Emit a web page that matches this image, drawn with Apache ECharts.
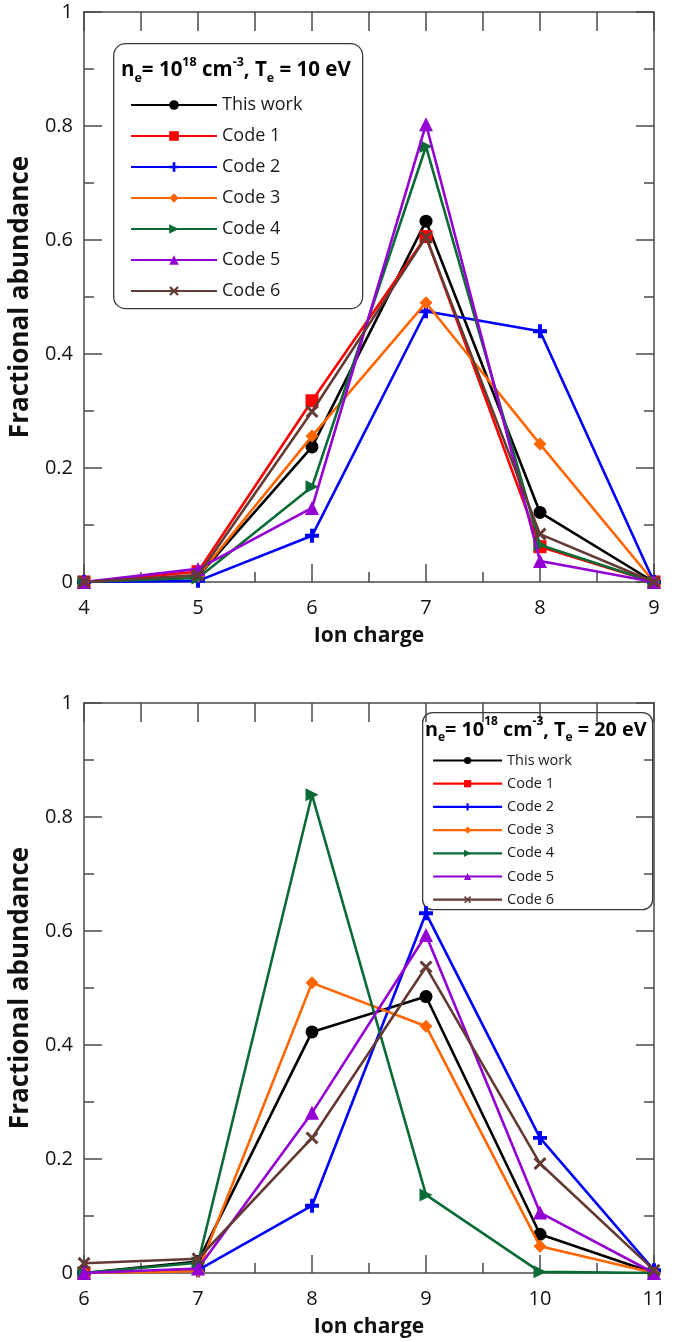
<!DOCTYPE html>
<html>
<head>
<meta charset="utf-8">
<script src="https://cdn.jsdelivr.net/npm/echarts@6/dist/echarts.min.js"></script>
<style>
html,body{margin:0;padding:0;background:#fff;}
#c{width:677px;height:1342px;}
</style>
</head>
<body>
<div id="c"></div>
<script>
// ---- data (top panel: Te = 10 eV) ----
const chargesA = [4, 5, 6, 7, 8, 9];
const thisWorkA = [0, 0.010, 0.237, 0.633, 0.122, 0];
const code1A = [0, 0.018, 0.318, 0.606, 0.062, 0];
const code2A = [0, 0.002, 0.081, 0.475, 0.440, 0];
const code3A = [0, 0.010, 0.256, 0.490, 0.242, 0];
const code4A = [0, 0.007, 0.167, 0.764, 0.065, 0];
const code5A = [0, 0.023, 0.130, 0.803, 0.037, 0];
const code6A = [0, 0.012, 0.299, 0.605, 0.084, 0];

// ---- data (bottom panel: Te = 20 eV) ----
const chargesB = [6, 7, 8, 9, 10, 11];
const thisWorkB = [0, 0.020, 0.423, 0.485, 0.068, 0];
const code1B = [0, null, null, null, null, null];
const code2B = [0, 0.005, 0.118, 0.631, 0.237, 0.005];
const code3B = [0, 0.003, 0.509, 0.433, 0.047, 0];
const code4B = [0, 0.018, 0.839, 0.137, 0.002, 0];
const code5B = [0, 0.008, 0.281, 0.593, 0.106, 0];
const code6B = [0.017, 0.025, 0.237, 0.537, 0.192, 0.005];

const seriesNames = ['This work', 'Code 1', 'Code 2', 'Code 3', 'Code 4', 'Code 5', 'Code 6'];
const yTicks = [0, 0.2, 0.4, 0.6, 0.8, 1];

// ---- styles ----
const colors = ['#000000', '#ff0000', '#0000ff', '#ff6600', '#0b6b37', '#9400d3', '#633a34'];
const PLUS = 'path://M3.6,0H6.4V3.6H10V6.4H6.4V10H3.6V6.4H0V3.6H3.6Z';
const CROSS = 'path://M0,1.6L1.6,0L5,3.4L8.4,0L10,1.6L6.6,5L10,8.4L8.4,10L5,6.6L1.6,10L0,8.4L3.4,5Z';
const RTRI = 'path://M0,0L10,5L0,10Z';
const symbols = ['circle', 'rect', PLUS, 'diamond', RTRI, 'triangle', CROSS];
const symSizes = [13, 13, 14, 13, 13, 14, 13];

const FONT = 'Open Sans';
const axisColor = '#4a4a4a';

function pairs(xs, ys) {
  return xs.map((x, i) => [x, ys[i] == null ? '-' : ys[i]]);
}

const dataA = [thisWorkA, code1A, code2A, code3A, code4A, code5A, code6A];
const dataB = [thisWorkB, code1B, code2B, code3B, code4B, code5B, code6B];

const series = [];
[[dataA, chargesA, 0], [dataB, chargesB, 1]].forEach(([set, xs, gi]) => {
  set.forEach((ys, i) => {
    series.push({
      name: seriesNames[i],
      type: 'line',
      xAxisIndex: gi * 2,
      yAxisIndex: gi * 2,
      data: pairs(xs, ys),
      symbol: symbols[i],
      symbolSize: symSizes[i],
      showAllSymbol: true,
      connectNulls: false,
      lineStyle: { color: colors[i], width: 2.6 },
      itemStyle: { color: colors[i] },
      emphasis: { disabled: true },
      animation: false,
      z: 2 + i
    });
  });
});

function bottomX(gi, min, max) {
  return {
    type: 'value', gridIndex: gi, min: min, max: max, interval: 1,
    position: 'bottom',
    name: 'Ion charge', nameLocation: 'middle', nameGap: 44,
    nameTextStyle: { fontFamily: FONT, fontSize: 21, fontWeight: 'bold', color: '#111' },
    axisLine: { show: true, onZero: false, lineStyle: { color: axisColor, width: 1.5 } },
    axisTick: { show: true, inside: true, length: 18, lineStyle: { color: axisColor, width: 1.5 } },
    minorTick: { show: true, splitNumber: 2, length: 10, lineStyle: { color: axisColor, width: 1.5 } },
    axisLabel: { show: true, margin: 16, fontFamily: FONT, fontSize: 20, color: '#111' },
    splitLine: { show: false }, minorSplitLine: { show: false }
  };
}
function topX(gi, min, max) {
  return {
    type: 'value', gridIndex: gi, min: min, max: max, interval: 0.5,
    position: 'top',
    axisLine: { show: true, onZero: false, lineStyle: { color: axisColor, width: 1.5 } },
    axisTick: { show: true, inside: true, length: 19, lineStyle: { color: axisColor, width: 1.5 } },
    axisLabel: { show: false },
    splitLine: { show: false }
  };
}
function leftY(gi) {
  return {
    type: 'value', gridIndex: gi, min: yTicks[0], max: yTicks[yTicks.length - 1], interval: 0.2,
    position: 'left',
    name: 'Fractional abundance', nameLocation: 'middle', nameGap: 46, nameRotate: 90,
    nameTextStyle: { fontFamily: FONT, fontSize: 26, fontWeight: 'bold', color: '#111' },
    axisLine: { show: true, onZero: false, lineStyle: { color: axisColor, width: 1.5 } },
    axisTick: { show: true, inside: true, length: 18, lineStyle: { color: axisColor, width: 1.5 } },
    minorTick: { show: true, splitNumber: 2, length: 10, lineStyle: { color: axisColor, width: 1.5 } },
    axisLabel: { show: true, margin: 11, fontFamily: FONT, fontSize: 20, color: '#111' },
    splitLine: { show: false }, minorSplitLine: { show: false }
  };
}
function rightY(gi) {
  return {
    type: 'value', gridIndex: gi, min: 0, max: 1, interval: 0.2,
    position: 'right',
    axisLine: { show: true, onZero: false, lineStyle: { color: axisColor, width: 1.5 } },
    axisTick: { show: true, inside: true, length: 18, lineStyle: { color: axisColor, width: 1.5 } },
    minorTick: { show: true, splitNumber: 2, length: 10, lineStyle: { color: axisColor, width: 1.5 } },
    axisLabel: { show: false },
    splitLine: { show: false }
  };
}

function titleRich(sz, sub) {
  return {
    m: { fontFamily: FONT, fontSize: sz, fontWeight: 'bold', color: '#111', lineHeight: sz + 8, verticalAlign: 'middle' },
    sup: { fontFamily: FONT, fontSize: sub, fontWeight: 'bold', color: '#111', lineHeight: sz + 8, verticalAlign: 'top' },
    sb: { fontFamily: FONT, fontSize: sub, fontWeight: 'bold', color: '#111', lineHeight: sz + 8, verticalAlign: 'bottom' }
  };
}
function titleText(te) {
  return '{m|n}{sb|e}{m|= 10}{sup|18}{m| cm}{sup|-3}{m|, T}{sb|e}{m| = ' + te + ' eV}';
}

const option = {
  backgroundColor: '#ffffff',
  animation: false,
  grid: [
    { left: 84, top: 12, width: 570, height: 570, containLabel: false },
    { left: 84, top: 703, width: 570, height: 570, containLabel: false }
  ],
  xAxis: [bottomX(0, chargesA[0], chargesA[chargesA.length - 1]), topX(0, chargesA[0], chargesA[chargesA.length - 1]),
          bottomX(1, chargesB[0], chargesB[chargesB.length - 1]), topX(1, chargesB[0], chargesB[chargesB.length - 1])],
  yAxis: [leftY(0), rightY(0), leftY(1), rightY(1)],
  legend: [
    {
      data: seriesNames, orient: 'vertical', left: 125, top: 91,
      itemWidth: 86, itemHeight: 12, itemGap: 13,
      textStyle: { fontFamily: FONT, fontSize: 18, color: '#1a1a1a' },
      selectedMode: false
    },
    {
      data: seriesNames, orient: 'vertical', left: 427, top: 748,
      itemWidth: 69, itemHeight: 9, itemGap: 8.2,
      lineStyle: { width: 2.2 },
      textStyle: { fontFamily: FONT, fontSize: 14.5, color: '#1a1a1a' },
      selectedMode: false
    }
  ],
  graphic: [
    { type: 'rect', left: 113, top: 43, z: 0, silent: true,
      shape: { width: 249, height: 265, r: 12 },
      style: { fill: '#ffffff', stroke: '#3a3a3a', lineWidth: 1.3 } },
    { type: 'text', left: 121, top: 56, z: 10, silent: true,
      style: { text: titleText(10), rich: titleRich(20.5, 12.5) } },
    { type: 'rect', left: 422, top: 712, z: 0, silent: true,
      shape: { width: 230, height: 197, r: 10 },
      style: { fill: '#ffffff', stroke: '#3a3a3a', lineWidth: 1.3 } },
    { type: 'text', left: 425, top: 716, z: 10, silent: true,
      style: { text: titleText(20), rich: titleRich(19.8, 12) } }
  ],
  series: series
};

const chart = echarts.init(document.getElementById('c'), null, { renderer: 'canvas' });
chart.setOption(option);
</script>
</body>
</html>
